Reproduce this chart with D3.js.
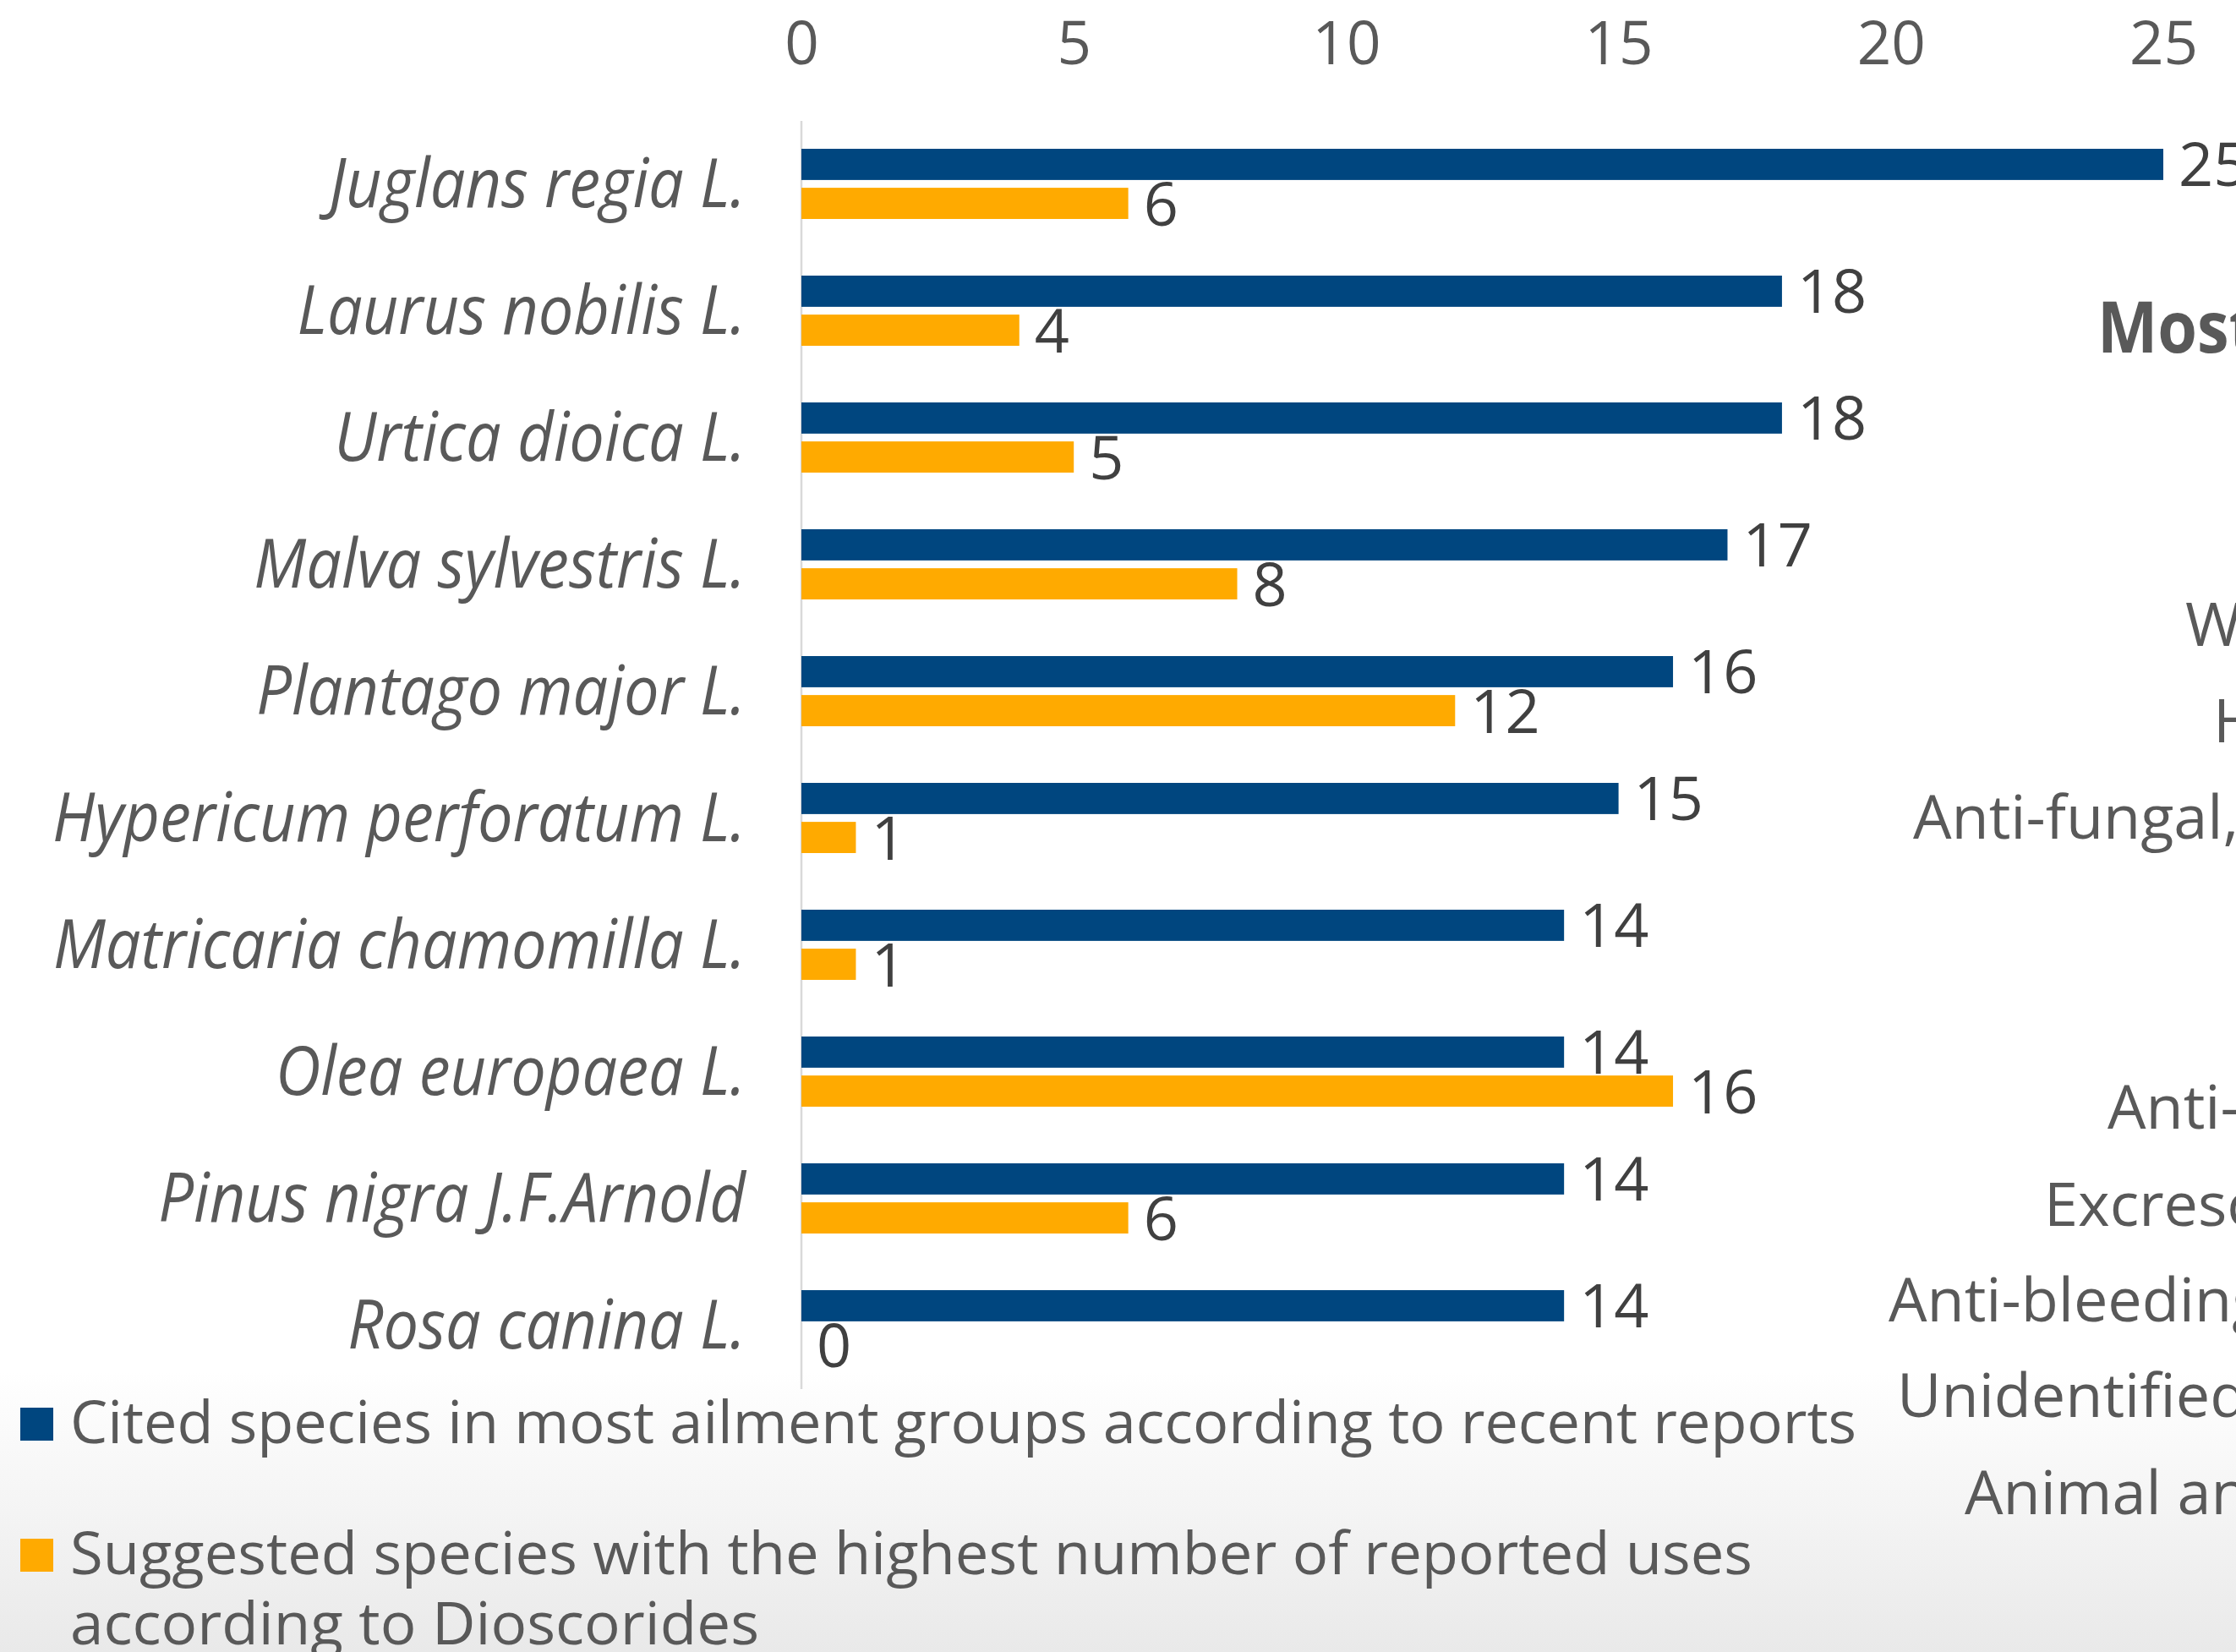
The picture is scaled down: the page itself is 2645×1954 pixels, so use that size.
<!DOCTYPE html>
<html>
<head>
<meta charset="utf-8">
<script src="https://cdn.jsdelivr.net/npm/d3@7"></script>
<style>
  body { margin: 0; background: #fff; overflow: hidden; }
  svg { display: block; font-family: "Open Sans", "Noto Sans", sans-serif; }
</style>
</head>
<body>
<script>
const SPECIES = [
  "Juglans regia L.",
  "Laurus nobilis L.",
  "Urtica dioica L.",
  "Malva sylvestris L.",
  "Plantago major L.",
  "Hypericum perforatum L.",
  "Matricaria chamomilla L.",
  "Olea europaea L.",
  "Pinus nigra J.F.Arnold",
  "Rosa canina L."
];
const CITED = [25, 18, 18, 17, 16, 15, 14, 14, 14, 14];
const SUGGESTED = [6, 4, 5, 8, 12, 1, 1, 16, 6, 0];
const X_TICKS = [0, 5, 10, 15, 20, 25];
const SERIES = ["cited", "suggested"];
const LEGEND_LABELS = [
  ["Cited species in most ailment groups according to recent reports"],
  ["Suggested species with the highest number of reported uses", "according to Dioscorides"]
];
// neighbouring panel, cut off by the right edge
const SIDE_TITLE = "Most cited ailment groups";
const SIDE_ROWS = [
  "Wounds",
  "Hemorrhoids",
  "Anti-fungal, anti-bacterial",
  "Anti-inflammatory",
  "Excrescences",
  "Anti-bleeding",
  "Unidentified",
  "Animal and insect bites"
];

const width = 2645,
  height = 1954;
const colors = { cited: "#00467f", suggested: "#ffaa00" };

const svg = d3
  .select("body")
  .append("svg")
  .attr("width", width)
  .attr("height", height);

// soft grey fade at the bottom
const grad = svg
  .append("defs")
  .append("linearGradient")
  .attr("id", "bg")
  .attr("x1", 0)
  .attr("y1", 0)
  .attr("x2", 0)
  .attr("y2", 1);
grad.append("stop").attr("offset", "0.83").attr("stop-color", "#ffffff");
grad.append("stop").attr("offset", "1").attr("stop-color", "#e9e9e9");
svg
  .append("rect")
  .attr("width", width)
  .attr("height", height)
  .attr("fill", "url(#bg)");

const xScale = d3.scaleLinear().domain([0, 25]).range([948, 2559]);

const yScale = d3
  .scaleBand()
  .domain(SPECIES)
  .range([143, 1643]);

const seriesScale = d3
  .scaleBand()
  .domain(SERIES)
  .range([33, 116])
  .paddingInner(0.2);

// x axis labels on top
const xAxis = d3
  .axisTop(xScale)
  .tickValues(X_TICKS)
  .tickSize(0)
  .tickPadding(0);

const gx = svg
  .append("g")
  .attr("transform", "translate(0, 76)")
  .call(xAxis);
gx.select(".domain").remove();
gx.selectAll("text")
  .attr("font-size", 71)
  .attr("fill", "#595959")
  .attr("font-family", "Open Sans");

// vertical baseline
svg
  .append("line")
  .attr("x1", xScale(0))
  .attr("x2", xScale(0))
  .attr("y1", yScale.range()[0])
  .attr("y2", yScale.range()[1])
  .attr("stroke", "#d9d9d9")
  .attr("stroke-width", 2.5);

const rows = SPECIES.map((s, i) => ({
  species: s,
  values: [
    { key: "cited", value: CITED[i] },
    { key: "suggested", value: SUGGESTED[i] }
  ]
}));

const groups = svg
  .selectAll("g.row")
  .data(rows)
  .join("g")
  .attr("class", "row")
  .attr("transform", d => `translate(0, ${yScale(d.species)})`);

groups
  .selectAll("rect")
  .data(d => d.values)
  .join("rect")
  .attr("x", xScale(0))
  .attr("y", d => seriesScale(d.key))
  .attr("width", d => xScale(d.value) - xScale(0))
  .attr("height", seriesScale.bandwidth())
  .attr("fill", d => colors[d.key]);

groups
  .selectAll("text.val")
  .data(d => d.values)
  .join("text")
  .attr("class", "val")
  .attr("x", d => xScale(d.value) + 18)
  .attr("y", d => seriesScale(d.key) + seriesScale.bandwidth() / 2 + 26)
  .attr("font-size", 72)
  .attr("fill", "#404040")
  .text(d => d.value);

// species names, italic, squeezed to the narrow face of the original
const catLabels = svg
  .selectAll("text.cat")
  .data(SPECIES)
  .join("text")
  .attr("class", "cat")
  .attr("x", 882)
  .attr("y", d => yScale(d) + yScale.bandwidth() / 2 + 27)
  .attr("text-anchor", "end")
  .attr("font-size", 80)
  .attr("font-style", "italic")
  .attr("fill", "#595959")
  .text(d => d);

const refWidth = catLabels
  .filter(d => d === "Hypericum perforatum L.")
  .node()
  .getComputedTextLength();
const squeeze = 820 / refWidth;
catLabels.each(function () {
  const w = this.getComputedTextLength();
  d3.select(this)
    .attr("textLength", w * squeeze)
    .attr("lengthAdjust", "spacingAndGlyphs");
});

// legend
const legendY = [1665, 1820];
const legendFit = [[2113], [1990, 815]];
LEGEND_LABELS.forEach((lines, i) => {
  const g = svg.append("g");
  g.append("rect")
    .attr("x", 24)
    .attr("y", legendY[i])
    .attr("width", 39)
    .attr("height", 39)
    .attr("fill", colors[SERIES[i]]);
  lines.forEach((line, j) => {
    g.append("text")
      .attr("x", 83)
      .attr("y", legendY[i] + 42 + j * 83)
      .attr("font-size", 70)
      .attr("fill", "#595959")
      .attr("textLength", legendFit[i][j])
      .attr("lengthAdjust", "spacingAndGlyphs")
      .text(line);
  });
});

// right-hand panel, mostly outside the frame
svg
  .append("text")
  .attr("transform", "translate(2481, 417) scale(0.9, 1)")
  .attr("font-size", 84)
  .attr("font-weight", "bold")
  .attr("fill", "#595959")
  .text(SIDE_TITLE);

const sideX = [2585, 2618, 2263, 2493, 2418, 2234, 2244, 2324];
const sideY = [764, 878, 992, 1335, 1450, 1563, 1676, 1791];
svg
  .selectAll("text.side")
  .data(SIDE_ROWS)
  .join("text")
  .attr("class", "side")
  .attr("x", (d, i) => sideX[i])
  .attr("y", (d, i) => sideY[i])
  .attr("font-size", 72)
  .attr("fill", "#595959")
  .text(d => d);
</script>
</body>
</html>
